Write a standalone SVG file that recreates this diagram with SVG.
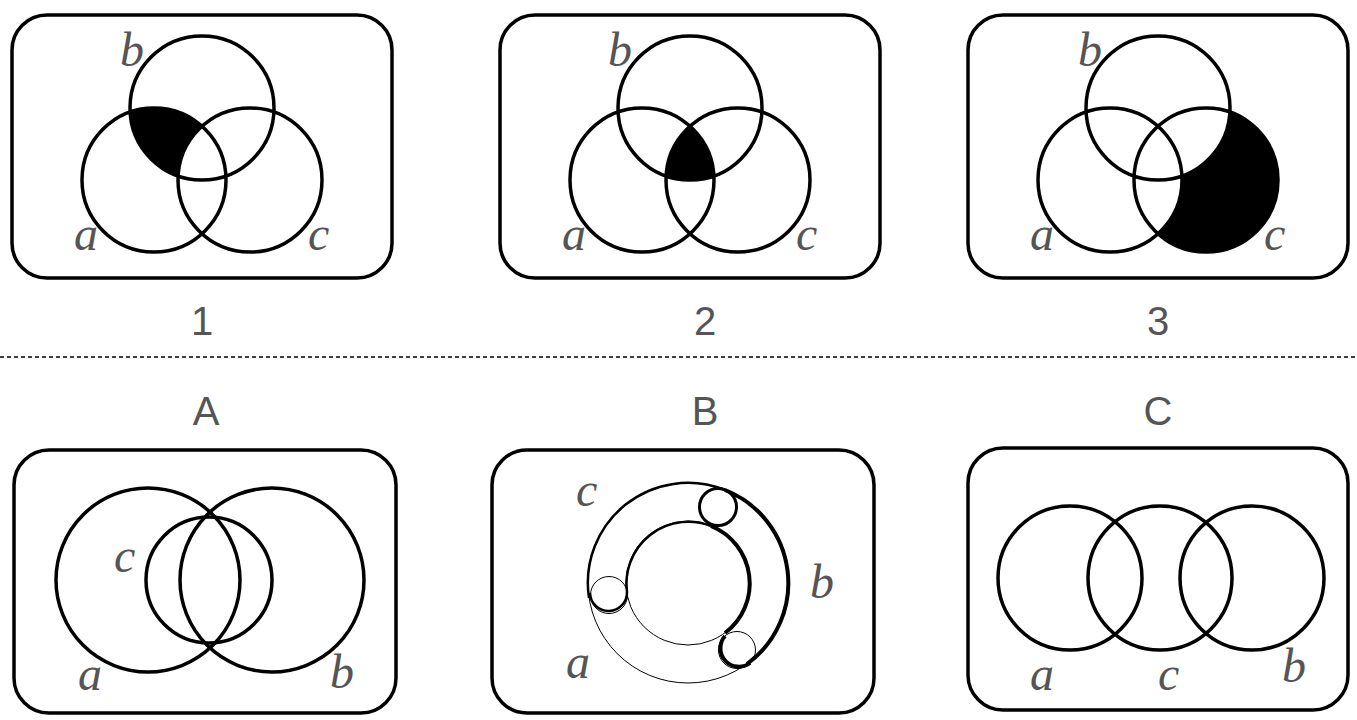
<svg xmlns="http://www.w3.org/2000/svg" width="1357" height="720" viewBox="0 0 1357 720">
<style>
.f{fill:none;stroke:#000;stroke-width:3.5}
.c{fill:none;stroke:#000;stroke-width:3.5}
.l{font-family:"Liberation Serif",serif;font-style:italic;font-size:48px;fill:#555}
.n{font-family:"Liberation Sans",sans-serif;font-size:40px;fill:#555;text-anchor:middle}
</style>
<defs>
<clipPath id="b1"><circle cx="202" cy="108" r="72"/></clipPath>
<clipPath id="a2"><circle cx="642" cy="180" r="72"/></clipPath>
<clipPath id="b2"><circle cx="690" cy="108" r="72"/></clipPath>
</defs>
<rect width="1357" height="720" fill="#fff"/>
<g id="d1">
<rect class="f" x="12" y="15" width="380" height="263" rx="35"/>
<g clip-path="url(#b1)"><circle cx="154" cy="180" r="72" fill="#000"/><circle cx="250" cy="180" r="72" fill="#fff"/></g>
<circle class="c" cx="202" cy="108" r="72"/><circle class="c" cx="154" cy="180" r="72"/><circle class="c" cx="250" cy="180" r="72"/>
<text class="l" x="120" y="66">b</text><text class="l" x="74" y="250">a</text><text class="l" x="308" y="250">c</text>
<text class="n" x="202" y="335">1</text>
</g>
<g id="d2">
<rect class="f" x="500" y="15" width="380" height="263" rx="35"/>
<g clip-path="url(#a2)"><g clip-path="url(#b2)"><circle cx="738" cy="180" r="72" fill="#000"/></g></g>
<circle class="c" cx="690" cy="108" r="72"/><circle class="c" cx="642" cy="180" r="72"/><circle class="c" cx="738" cy="180" r="72"/>
<text class="l" x="608" y="66">b</text><text class="l" x="562" y="250">a</text><text class="l" x="796" y="250">c</text>
<text class="n" x="705" y="335">2</text>
</g>
<g id="d3">
<rect class="f" x="968" y="15" width="380" height="263" rx="35"/>
<circle cx="1206" cy="180" r="72" fill="#000"/><circle cx="1158" cy="108" r="72" fill="#fff"/><circle cx="1110" cy="180" r="72" fill="#fff"/>
<circle class="c" cx="1158" cy="108" r="72"/><circle class="c" cx="1110" cy="180" r="72"/><circle class="c" cx="1206" cy="180" r="72"/>
<text class="l" x="1078" y="66">b</text><text class="l" x="1030" y="250">a</text><text class="l" x="1264" y="250">c</text>
<text class="n" x="1158" y="335">3</text>
</g>
<line x1="0" y1="357" x2="1357" y2="357" stroke="#000" stroke-width="1.5" stroke-dasharray="4,3"/>
<g id="dA">
<text class="n" x="206" y="425">A</text>
<rect class="f" x="14" y="450" width="382" height="263" rx="35"/>
<circle class="c" cx="148" cy="580" r="92"/><circle class="c" cx="272" cy="580" r="92"/><circle class="c" cx="209" cy="580" r="63"/>
<text class="l" x="114" y="572">c</text><text class="l" x="78" y="690">a</text><text class="l" x="330" y="688">b</text>
</g>
<g id="dB">
<text class="n" x="705" y="425">B</text>
<rect class="f" x="492" y="450" width="382" height="263" rx="35"/>
<circle cx="688" cy="583" r="100" fill="none" stroke="#000" stroke-width="1"/>
<circle cx="688" cy="583" r="62" fill="none" stroke="#000" stroke-width="1"/>
<path d="M589,598 A100,100 0 0 1 725,490" fill="none" stroke="#000" stroke-width="2.5"/>
<path d="M725,490 A100,100 0 0 1 747,664" fill="none" stroke="#000" stroke-width="4"/>
<path d="M627,592 A62,62 0 0 1 711,526" fill="none" stroke="#000" stroke-width="2.5"/>
<path d="M711,526 A62,62 0 0 1 725,633" fill="none" stroke="#000" stroke-width="4"/>
<circle cx="718" cy="507" r="18.5" fill="none" stroke="#000" stroke-width="3"/>
<circle cx="609" cy="595" r="18.5" fill="none" stroke="#000" stroke-width="1"/>
<path d="M590,593 A18.5,18.5 0 0 0 627,592" fill="none" stroke="#000" stroke-width="2.5"/>
<circle cx="737" cy="650" r="18.5" fill="none" stroke="#000" stroke-width="1"/>
<path d="M725,636 A18.5,18.5 0 0 0 750,663" fill="none" stroke="#000" stroke-width="4"/>
<text class="l" x="576" y="506">c</text><text class="l" x="566" y="678">a</text><text class="l" x="810" y="598">b</text>
</g>
<g id="dC">
<text class="n" x="1158" y="425">C</text>
<rect class="f" x="968" y="448" width="380" height="262" rx="35"/>
<circle class="c" cx="1070" cy="578" r="72"/><circle class="c" cx="1160" cy="578" r="72"/><circle class="c" cx="1252" cy="578" r="72"/>
<text class="l" x="1030" y="690">a</text><text class="l" x="1158" y="690">c</text><text class="l" x="1282" y="682">b</text>
</g>
</svg>
